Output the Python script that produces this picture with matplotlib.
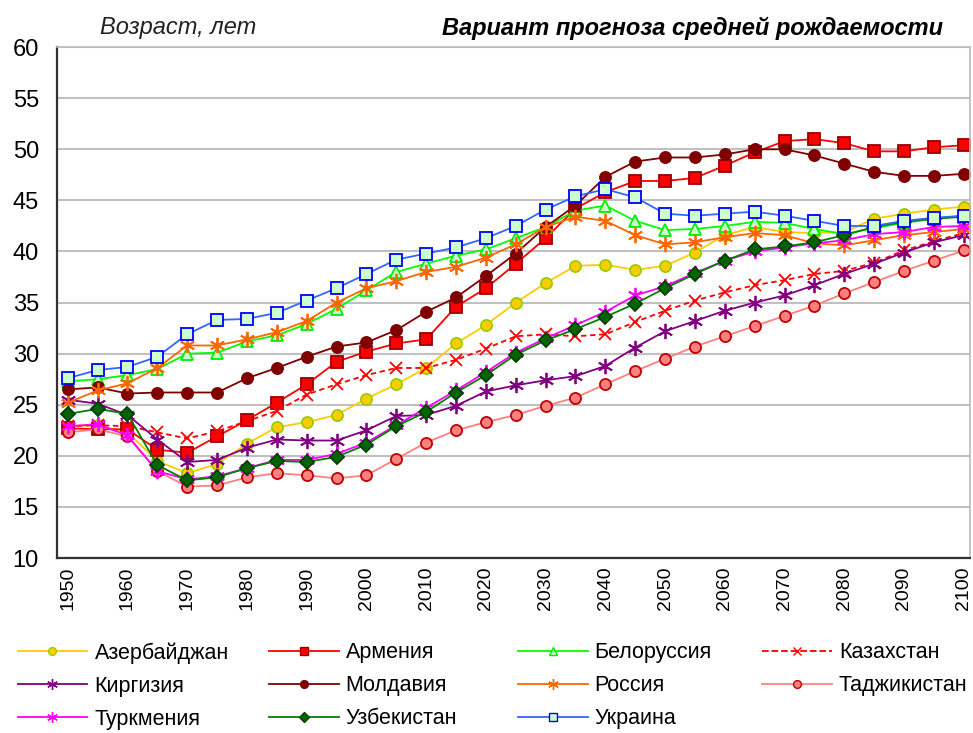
"""Line chart: mean age by country, 1950-2100, medium-fertility projection variant."""

import matplotlib

matplotlib.use("Agg")
import matplotlib.pyplot as plt  # noqa: E402
from matplotlib.lines import Line2D  # noqa: E402

plt.rcParams["font.family"] = ["Liberation Sans", "DejaVu Sans"]

YEARS = [1950, 1955, 1960, 1965, 1970, 1975, 1980, 1985, 1990, 1995, 2000,
         2005, 2010, 2015, 2020, 2025, 2030, 2035, 2040, 2045, 2050,
         2055, 2060, 2065, 2070, 2075, 2080, 2085, 2090, 2095, 2100]
TICK_YEARS = [1950, 1960, 1970, 1980, 1990, 2000, 2010, 2020, 2030, 2040,
              2050, 2060, 2070, 2080, 2090, 2100]

azerbaijan = [22.9, 23.0, 22.3, 19.5, 18.3, 19.2, 21.2, 22.8, 23.3, 24.0, 25.6,
              27.0, 28.6, 31.0, 32.8, 35.0, 36.9, 38.6, 38.7, 38.2, 38.6,
              39.9, 41.6, 42.4, 41.9, 41.8, 41.9, 43.2, 43.7, 44.1, 44.4]
armenia = [22.7, 22.6, 22.6, 20.6, 20.3, 21.9, 23.5, 25.2, 27.0, 29.2, 30.2,
           31.0, 31.4, 34.6, 36.4, 38.8, 41.3, 44.2, 45.8, 46.9, 46.9,
           47.2, 48.4, 49.7, 50.8, 51.0, 50.6, 49.8, 49.8, 50.2, 50.4]
belarus = [27.3, 27.5, 27.9, 28.5, 30.0, 30.1, 31.2, 31.8, 32.9, 34.4, 36.2,
           38.0, 38.8, 39.6, 40.2, 41.3, 42.4, 44.0, 44.5, 43.0, 42.1,
           42.2, 42.5, 42.9, 42.8, 42.2, 41.7, 42.3, 42.8, 43.2, 43.5]
kazakhstan = [22.9, 23.0, 22.9, 22.3, 21.7, 22.4, 23.4, 24.4, 26.0, 27.0, 27.9,
              28.6, 28.6, 29.4, 30.5, 31.7, 31.9, 31.7, 31.9, 33.1, 34.2,
              35.2, 36.0, 36.7, 37.2, 37.8, 38.1, 38.9, 40.1, 41.0, 41.8]
kyrgyzstan = [25.5, 25.1, 24.0, 21.6, 19.4, 19.6, 20.8, 21.6, 21.5, 21.5, 22.5,
              23.9, 24.0, 24.9, 26.3, 26.9, 27.4, 27.8, 28.8, 30.6, 32.2,
              33.2, 34.2, 35.0, 35.7, 36.7, 37.8, 38.8, 39.9, 40.9, 41.6]
moldova = [26.5, 26.7, 26.1, 26.2, 26.2, 26.2, 27.6, 28.6, 29.7, 30.7, 31.1,
           32.3, 34.1, 35.5, 37.6, 39.8, 42.4, 44.5, 47.3, 48.8, 49.2,
           49.2, 49.5, 50.0, 50.0, 49.4, 48.6, 47.8, 47.4, 47.4, 47.6]
russia = [25.2, 26.4, 27.1, 28.6, 30.8, 30.8, 31.4, 32.1, 33.2, 35.0, 36.4,
          37.1, 38.0, 38.5, 39.4, 40.7, 42.4, 43.4, 43.0, 41.6, 40.7,
          40.9, 41.4, 41.8, 41.6, 40.8, 40.6, 41.1, 41.6, 41.9, 42.2]
tajikistan = [22.3, 22.6, 21.9, 18.5, 17.0, 17.1, 17.9, 18.3, 18.1, 17.8, 18.1,
              19.7, 21.3, 22.5, 23.3, 24.0, 24.9, 25.7, 27.0, 28.3, 29.5,
              30.7, 31.7, 32.7, 33.7, 34.7, 35.9, 37.0, 38.1, 39.1, 40.1]
turkmenistan = [22.9, 23.1, 22.0, 18.5, 17.7, 18.0, 18.8, 19.6, 19.6, 20.2, 21.3,
                23.0, 24.7, 26.4, 28.2, 30.1, 31.5, 32.8, 34.1, 35.7, 36.6,
                37.9, 39.1, 40.0, 40.4, 40.8, 41.1, 41.7, 41.9, 42.4, 42.5]
uzbekistan = [24.1, 24.6, 24.1, 19.1, 17.6, 17.9, 18.8, 19.5, 19.4, 19.9, 21.1,
              22.9, 24.3, 26.2, 27.9, 29.9, 31.3, 32.4, 33.6, 34.9, 36.4,
              37.8, 39.1, 40.2, 40.5, 40.9, 41.6, 42.4, 42.9, 43.2, 43.4]
ukraine = [27.6, 28.4, 28.7, 29.7, 31.9, 33.3, 33.4, 34.0, 35.2, 36.4, 37.8,
           39.2, 39.8, 40.4, 41.3, 42.5, 44.1, 45.4, 46.1, 45.3, 43.7,
           43.5, 43.7, 43.9, 43.5, 43.0, 42.5, 42.5, 43.0, 43.3, 43.5]

ASTERISK = (6, 2, 0)

# label, values, line colour, linestyle, marker, marker size, face, edge
SERIES = [
    ("Азербайджан", azerbaijan, "#FFCC00", "-", "o", 8, "#FFCC00", "#99CC00"),
    ("Армения", armenia, "#FF0000", "-", "s", 8, "#FF0000", "#990000"),
    ("Белоруссия", belarus, "#00FF00", "-", "^", 8, "#CCFFCC", "#00EE00"),
    ("Казахстан", kazakhstan, "#FF0000", (0, (3, 2)), "x", 9, "#FF0000", "#FF0000"),
    ("Киргизия", kyrgyzstan, "#800080", "-", ASTERISK, 11, "#800080", "#800080"),
    ("Молдавия", moldova, "#800000", "-", "o", 8, "#800000", "#800000"),
    ("Россия", russia, "#FF6600", "-", ASTERISK, 11, "#FF6600", "#FF6600"),
    ("Таджикистан", tajikistan, "#FF8080", "-", "o", 8, "#FF8080", "#C00000"),
    ("Туркмения", turkmenistan, "#FF00FF", "-", ASTERISK, 11, "#FF00FF", "#FF00FF"),
    ("Узбекистан", uzbekistan, "#008000", "-", "D", 7, "#006400", "#004000"),
    ("Украина", ukraine, "#3366FF", "-", "s", 8, "#CCFFCC", "#0000FF"),
]


def main() -> None:
    fig = plt.figure(figsize=(9.73, 7.33), dpi=100)
    ax = fig.add_axes((0.0586, 0.2387, 0.938, 0.697))

    handles = []
    for label, ys, color, ls, marker, ms, face, edge in SERIES:
        (ln,) = ax.plot(YEARS, ys, color=color, ls=ls, lw=1.3, marker=marker,
                        ms=ms, mfc=face, mec=edge, mew=1.3, label=label)
        handles.append(ln)

    ax.set_xlim(1948.2, 2101.0)
    ax.set_ylim(10, 60)
    ax.set_yticks(range(10, 61, 5))
    ax.set_xticks(TICK_YEARS)
    ax.set_xticklabels([str(y) for y in TICK_YEARS], rotation=90, fontsize=14)
    ax.tick_params(axis="y", length=0, pad=13, labelsize=17)
    ax.tick_params(axis="x", length=0, pad=6)
    ax.grid(axis="y", color="#C0C0C0", lw=1.5)
    ax.set_axisbelow(True)
    for side in ("left", "bottom"):
        ax.spines[side].set_color("#333333")
        ax.spines[side].set_linewidth(1.6)
    for side in ("top", "right"):
        ax.spines[side].set_color("#BBBBBB")
        ax.spines[side].set_linewidth(1.2)

    fig.text(0.103, 0.962, "Возраст, лет", fontsize=17, style="italic",
             va="center", color="#222222")
    fig.text(0.969, 0.962, "Вариант прогноза средней рождаемости", fontsize=17,
             style="italic", weight="bold", ha="right", va="center")

    # legend: four separate columns so the spacing matches the original
    col_x = [0.018, 0.276, 0.532, 0.783]
    for c, x in enumerate(col_x):
        hs = handles[c::4]
        proxies = [Line2D([], [], color=h.get_color(), ls=h.get_linestyle(),
                          lw=1.3, marker=h.get_marker(), ms=h.get_markersize() * 0.7,
                          mfc=h.get_markerfacecolor(), mec=h.get_markeredgecolor())
                   for h in hs]
        fig.legend(proxies, [h.get_label() for h in hs], loc="upper left",
                   bbox_to_anchor=(x, 0.1235), frameon=False, fontsize=15.5,
                   borderpad=0, borderaxespad=0, handlelength=3.25,
                   handletextpad=0.33, labelspacing=0.55, numpoints=1)

    fig.savefig("out.png", dpi=100)


if __name__ == "__main__":
    main()
